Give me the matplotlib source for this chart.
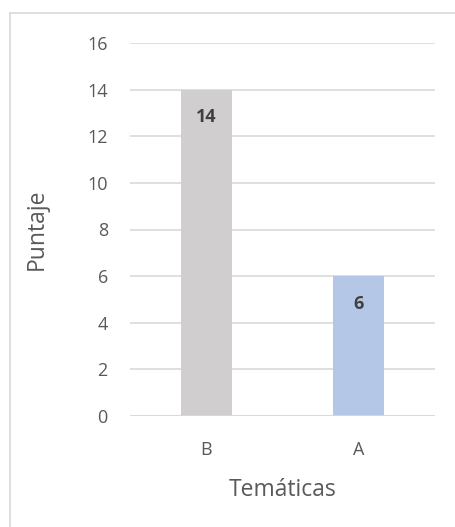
import matplotlib
matplotlib.use("Agg")
import matplotlib.pyplot as plt
from matplotlib.lines import Line2D

categories = ["B", "A"]
values = [14, 6]
colors = ["#d0cece", "#b4c7e7"]
yticks = [0, 2, 4, 6, 8, 10, 12, 14, 16]

plt.rcParams['font.family'] = ['Open Sans', 'DejaVu Sans']
fig = plt.figure(figsize=(4.55, 5.27), dpi=100)
ax = fig.add_axes([130/455, 1-416/527, 305/455, 373/527])

x = range(len(categories))
ax.bar(x, values, width=0.335, color=colors, zorder=3)
ax.set_xlim(-0.5, 1.5)
ax.set_ylim(0, 16)
ax.set_yticks(yticks)
ax.set_xticks(list(x))
ax.set_xticklabels(categories)
ax.grid(axis='y', color='#d9d9d9', linewidth=1.2, zorder=0)
for s in ax.spines.values():
    s.set_visible(False)
ax.axhline(0, color='#d9d9d9', linewidth=1.2, zorder=4)
ax.tick_params(axis='both', length=0, labelsize=13, labelcolor='#595959')
ax.tick_params(axis='y', pad=16)
ax.tick_params(axis='x', pad=18)
ax.set_xlabel("Temáticas", fontsize=16.5, color='#595959', labelpad=14)
ax.set_ylabel("Puntaje", fontsize=16.5, color='#595959', labelpad=28)

for xi, v in zip(x, values):
    ax.annotate(str(v), (xi, v), xytext=(0, -20), textcoords='offset points',
                ha='center', va='center', fontsize=13, fontweight='bold',
                color='#404040', zorder=5)

fig.add_artist(Line2D([10/455, 10/455], [0, 1-13/527], transform=fig.transFigure, color='#d9d9d9', linewidth=1.2))
fig.add_artist(Line2D([10/455, 1], [1-13/527, 1-13/527], transform=fig.transFigure, color='#d9d9d9', linewidth=1.2))

fig.savefig("out.png", dpi=100)
